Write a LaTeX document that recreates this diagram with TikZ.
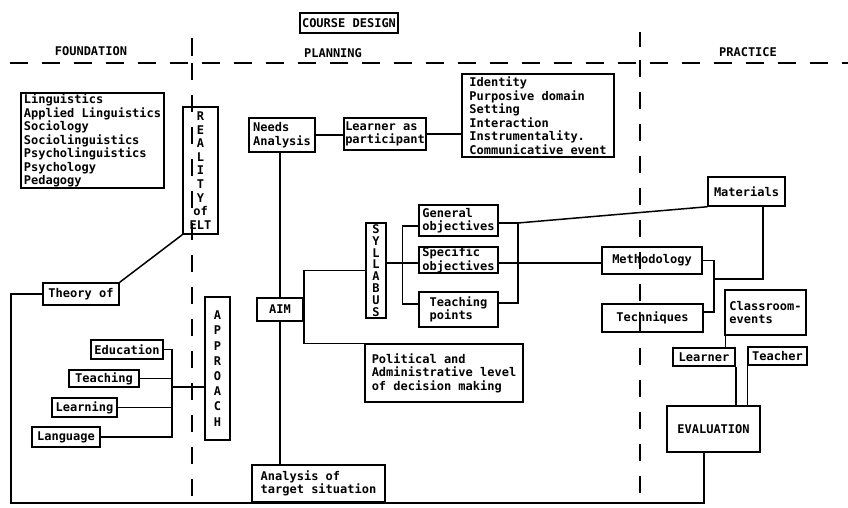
\documentclass[tikz,border=0pt]{standalone}
\usepackage{fontspec}
\setmonofont{DejaVu Sans Mono}
\begin{document}
\begin{tikzpicture}[x=1pt,y=-1pt,
  font=\ttfamily\bfseries\fontsize{12}{13.5}\selectfont,
  every path/.style={line width=1.5pt},
  bx/.style={draw, line width=1.5pt, inner sep=0pt, rectangle},
  lab/.style={inner sep=0pt},
  dline/.style={line width=1.3pt, dash pattern=on 18pt off 14pt},
  vline/.style={line width=1.3pt, dash pattern=on 17pt off 15pt},
  vert/.style={bx, align=center, font=\ttfamily\bfseries\fontsize{12}{#1}\selectfont}]
\fill[white] (0,0) rectangle (848,507);
\useasboundingbox (0,0) rectangle (848,507);

% headings
\node[bx, minimum width=98pt, minimum height=20pt] (cd) at (349,23) {COURSE DESIGN};
\node[lab] (hfound) at (91,51) {FOUNDATION};
\node[lab] (hplan) at (333,53) {PLANNING};
\node[lab] (hprac) at (748,52) {PRACTICE};

% dashed separators
\draw[dline] (10,63) -- (848,63);
\draw (192,38) -- (192,56);
\draw[vline] (192,63) -- (192,500);
\draw (640,32) -- (640,47);
\draw[vline] (640,60) -- (640,498);

% foundation
\node[bx, minimum width=143pt, minimum height=95pt, align=left] (disc) at (92.5,140.5)
  {Linguistics\\Applied Linguistics\\Sociology\\Sociolinguistics\\Psycholinguistics\\Psychology\\Pedagogy};
\node[vert=13.6, minimum width=35pt, minimum height=127pt] (real) at (200.5,170.5)
  {R\\E\\A\\L\\I\\T\\Y\\of\\ELT};
\node[bx, minimum width=76pt, minimum height=22pt] (theory) at (81,294) {Theory of};
\node[vert=15.2, minimum width=25pt, minimum height=143pt] (appr) at (217.5,368.5)
  {A\\P\\P\\R\\O\\A\\C\\H};
\node[bx, minimum width=72pt, minimum height=19pt] (edu) at (127,349.5) {Education};
\node[bx, minimum width=70pt, minimum height=17pt] (teach) at (104,378.5) {Teaching};
\node[bx, minimum width=65pt, minimum height=19pt] (learn) at (84.5,407.5) {Learning};
\node[bx, minimum width=68pt, minimum height=20pt] (lang) at (66,437) {Language};

% planning
\node[bx, minimum width=66pt, minimum height=34pt, align=left] (needs) at (282,135) {Needs\\Analysis};
\node[bx, minimum width=82pt, minimum height=32pt, align=left] (lpart) at (385,134) {Learner as\\participant};
\node[bx, minimum width=152pt, minimum height=83pt, align=left] (ident) at (538,115.5)
  {Identity\\Purposive domain\\Setting\\Interaction\\Instrumentality.\\Communicative event};
\node[bx, minimum width=46pt, minimum height=23pt] (aim) at (280,309.5) {AIM};
\node[vert=11.8, minimum width=20pt, minimum height=95pt] (syl) at (376,270.5)
  {S\\Y\\L\\L\\A\\B\\U\\S};
\node[bx, minimum width=79pt, minimum height=31pt, align=left] (gen) at (458.5,220.5) {General\\objectives};
\node[bx, minimum width=79pt, minimum height=26pt, align=left] (spec) at (458.5,260) {Specific\\objectives};
\node[bx, minimum width=79pt, minimum height=35pt, align=left] (tpts) at (458.5,309.5) {Teaching\\points};
\node[bx, minimum width=158pt, minimum height=58pt, align=left] (pol) at (444,373)
  {Political and\\Administrative level\\of decision making};
\node[bx, minimum width=133pt, minimum height=37pt, align=left] (ats) at (318.5,483.5)
  {Analysis of\\target situation};

% practice
\node[bx, minimum width=77pt, minimum height=29pt] (mat) at (746.5,191.5) {Materials};
\node[bx, minimum width=100pt, minimum height=27pt] (meth) at (652,260.5) {Methodology};
\node[bx, minimum width=101pt, minimum height=28pt] (tech) at (652.5,318) {Techniques};
\node[bx, minimum width=81pt, minimum height=45pt, align=left] (cls) at (765.5,312.5) {Classroom-\\events};
\node[bx, minimum width=62pt, minimum height=18pt] (lrn) at (704,357) {Learner};
\node[bx, minimum width=59pt, minimum height=18pt] (tch) at (777.5,356) {Teacher};
\node[bx, minimum width=93pt, minimum height=46pt] (eval) at (713.5,429) {EVALUATION};

% connectors: foundation
\draw (theory.north east) -- (real.south west);
\draw (theory.west) -| (11,503) -| ([xshift=-9.5pt]eval.south);
\coordinate (ab) at (172,0);
\draw (edu.east) -| (ab |- lang.east) -- (lang.east);
\draw (teach.east) -- (teach.east -| ab);
\draw (learn.east) -- (learn.east -| ab);
\draw ([yshift=-18.5pt]appr.west) -- ([yshift=-18.5pt]appr.west -| ab);

% connectors: planning
\draw (needs.east) -- (needs.east -| lpart.west);
\draw (lpart.east) -- (lpart.east -| ident.west);
\draw (aim.north) -- (aim.north |- needs.south);
\draw (aim.south) -- (aim.south |- ats.north);
\draw (syl.west) -| (aim.east) |- (pol.north west);
\draw ([yshift=-3pt]spec.west) -- ([yshift=-3pt]spec.west -| syl.east);
\draw ([yshift=-5.5pt]gen.west) -- ++(-16,0) |- ([yshift=5.5pt]tpts.west);
\coordinate (rb) at ([yshift=-2.5pt,xshift=19pt]gen.east);
\draw ([yshift=-2.5pt]gen.east) -- (rb) |- ([yshift=6.5pt]tpts.east);
\draw (rb) -- (mat.south west);
\draw ([yshift=-3pt]spec.east) -- ([yshift=-3pt]spec.east -| meth.west);

% connectors: practice
\coordinate (mj) at (713,279);
\draw (meth.east) -- ++(11,0) |- ([yshift=6pt]tech.east);
\draw ([xshift=16.5pt]mat.south) |- (mj);
\draw ([xshift=1pt]cls.south west) -- ([xshift=1pt]cls.south west |- lrn.north);
\draw (lrn.south east) -- (lrn.south east |- eval.north);
\draw (tch.south west) -- (tch.south west |- eval.north);
\end{tikzpicture}
\end{document}
